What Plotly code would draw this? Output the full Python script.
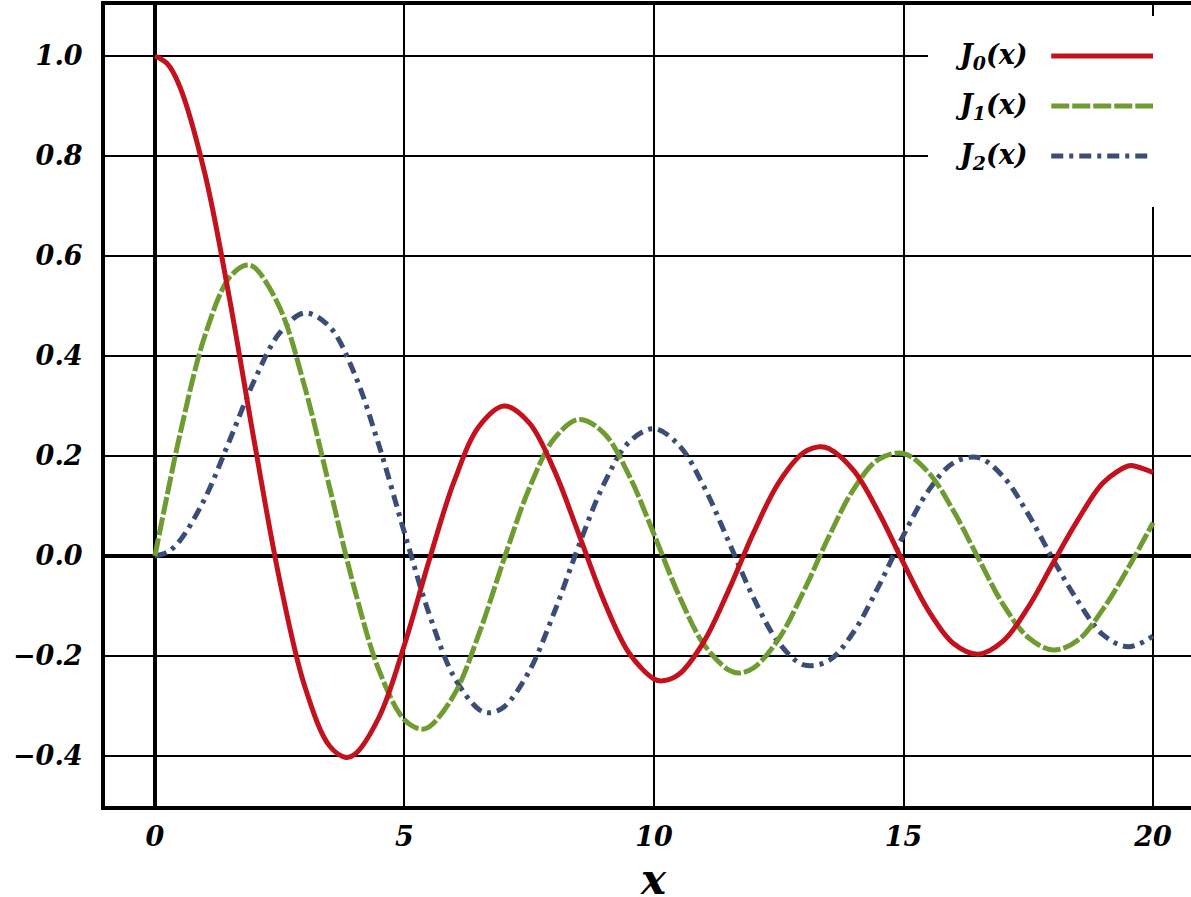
import plotly.graph_objects as go

# Values; extra points near the turning points
j0_x = [0, 0.25, 0.5, 1.0, 1.5, 2.0, 2.5, 3.0, 3.5, 3.83, 4.0, 4.5, 5.0, 5.5, 6.0, 6.5, 7.0,
        7.5, 8.0, 8.5, 9.0, 9.5, 10.0, 10.17, 10.5, 11.0, 11.5, 12.0, 12.5, 13.0, 13.32, 13.5,
        14.0, 14.5, 15.0, 15.5, 16.0, 16.5, 17.0, 17.5, 18.0, 18.5, 19.0, 19.5, 19.62, 20.0]
j0_y = [1.0000, 0.9844, 0.9385, 0.7652, 0.5118, 0.2239, -0.0484, -0.2601, -0.3801, -0.4028,
        -0.3971, -0.3205, -0.1776, -0.0068, 0.1506, 0.2601, 0.3001, 0.2663, 0.1717, 0.0419,
        -0.0903, -0.1939, -0.2459, -0.2497, -0.2366, -0.1712, -0.0677, 0.0477, 0.1469, 0.2069,
        0.2184, 0.2150, 0.1711, 0.0875, -0.0142, -0.1092, -0.1749, -0.1964, -0.1699, -0.1022,
        -0.0134, 0.0732, 0.1466, 0.1800, 0.1801, 0.1670]

j1_x = [0, 0.25, 0.5, 1.0, 1.5, 1.84, 2.0, 2.5, 3.0, 3.5, 4.0, 4.5, 5.0, 5.33, 5.5, 6.0, 6.5,
        7.0, 7.5, 8.0, 8.5, 9.0, 9.5, 10.0, 10.5, 11.0, 11.5, 11.71, 12.0, 12.5, 13.0, 13.5,
        14.0, 14.5, 15.0, 15.5, 16.0, 16.5, 17.0, 17.5, 18.0, 18.5, 19.0, 19.5, 20.0]
j1_y = [0.0000, 0.1240, 0.2423, 0.4401, 0.5579, 0.5819, 0.5767, 0.4971, 0.3391, 0.1374,
        -0.0660, -0.2311, -0.3276, -0.3461, -0.3414, -0.2767, -0.1538, -0.0047, 0.1352, 0.2346,
        0.2731, 0.2453, 0.1613, 0.0435, -0.0789, -0.1768, -0.2284, -0.2340, -0.2234, -0.1655,
        -0.0703, 0.0380, 0.1334, 0.1934, 0.2051, 0.1672, 0.0904, -0.0047, -0.0977, -0.1630,
        -0.1880, -0.1680, -0.1057, -0.0242, 0.0668]

j2_x = [0, 0.25, 0.5, 1.0, 1.5, 2.0, 2.5, 3.0, 3.5, 4.0, 4.5, 5.0, 5.5, 6.0, 6.5, 6.71, 7.0,
        7.5, 8.0, 8.5, 9.0, 9.5, 10.0, 10.5, 11.0, 11.5, 12.0, 12.5, 13.0, 13.5, 14.0, 14.5,
        15.0, 15.5, 16.0, 16.5, 17.0, 17.5, 18.0, 18.5, 19.0, 19.5, 20.0]
j2_y = [0.0000, 0.0078, 0.0306, 0.1149, 0.2321, 0.3528, 0.4461, 0.4861, 0.4586, 0.3641,
        0.2178, 0.0466, -0.1173, -0.2429, -0.3074, -0.3135, -0.3014, -0.2303, -0.1130, 0.0223,
        0.1448, 0.2279, 0.2546, 0.2215, 0.1390, 0.0280, -0.0849, -0.1734, -0.2177, -0.2094,
        -0.1520, -0.0608, 0.0416, 0.1308, 0.1862, 0.1969, 0.1584, 0.0833, -0.0075, -0.0911,
        -0.1578, -0.1814, -0.1603]

series_names = ["J<sub>0</sub>(x)", "J<sub>1</sub>(x)", "J<sub>2</sub>(x)"]
series_colors = ["#c3121d", "#6f9c30", "#3b4c76"]
series_dash = ["solid", "18px,3px", "12px,6px,4px,6px"]
series_x = [j0_x, j1_x, j2_x]
series_y = [j0_y, j1_y, j2_y]
legend_y = [1.0, 0.9, 0.8]

FONT = dict(family="DejaVu Serif", size=27, color="black", weight="bold", style="italic")

fig = go.Figure()
# draw J2 first, J0 last (on top)
for idx in [2, 1, 0]:
    fig.add_trace(go.Scatter(
        x=series_x[idx], y=series_y[idx], mode="lines",
        line=dict(color=series_colors[idx], width=5, dash=series_dash[idx], shape="spline"),
        name=series_names[idx], showlegend=False, hoverinfo="skip"))

# legend box (white background)
fig.add_shape(type="rect", xref="x", yref="y", x0=15.49, x1=20.76, y0=0.698, y1=1.08,
              fillcolor="white", line=dict(width=0), layer="above")
for i in range(3):
    fig.add_shape(type="line", xref="x", yref="y", x0=17.96, x1=20.0,
                  y0=legend_y[i], y1=legend_y[i],
                  line=dict(color=series_colors[i], width=5, dash=series_dash[i]), layer="above")
    fig.add_annotation(x=17.53, y=legend_y[i], xref="x", yref="y", text=series_names[i],
                       showarrow=False, xanchor="right", yanchor="middle",
                       font=dict(family="DejaVu Serif", size=27, color="black",
                                 weight="bold", style="italic"))

# x-axis title
fig.add_annotation(x=10, y=0, xref="x", yref="paper", text="x", showarrow=False,
                   xanchor="center", yanchor="middle", yshift=-73, height=32, valign="middle",
                   font=dict(family="DejaVu Serif", size=42, color="black",
                             weight="bold", style="italic"))

fig.update_layout(
    width=1191, height=897,
    margin=dict(l=105, r=0, t=5, b=91, autoexpand=False),
    paper_bgcolor="white", plot_bgcolor="white",
    showlegend=False,
    font=FONT,
)
fig.update_xaxes(
    range=[-1.0, 20.76], tick0=0, dtick=5, tickformat="d",
    showgrid=True, gridcolor="black", gridwidth=1.5,
    zeroline=True, zerolinecolor="black", zerolinewidth=3.5,
    showline=True, linecolor="black", linewidth=4, mirror=True,
    ticks="", ticklabelstandoff=4, tickfont=FONT, automargin=False,
)
fig.update_yaxes(
    range=[-0.5, 1.102], tick0=0, dtick=0.2, tickformat=".1f",
    showgrid=True, gridcolor="black", gridwidth=1.5,
    zeroline=True, zerolinecolor="black", zerolinewidth=3.5,
    showline=True, linecolor="black", linewidth=4, mirror=False,
    ticks="", ticklabelstandoff=13, tickfont=FONT, automargin=False,
)

fig.write_html("out.html", config={"displayModeBar": False},
               post_script="document.body.style.margin='0';")
